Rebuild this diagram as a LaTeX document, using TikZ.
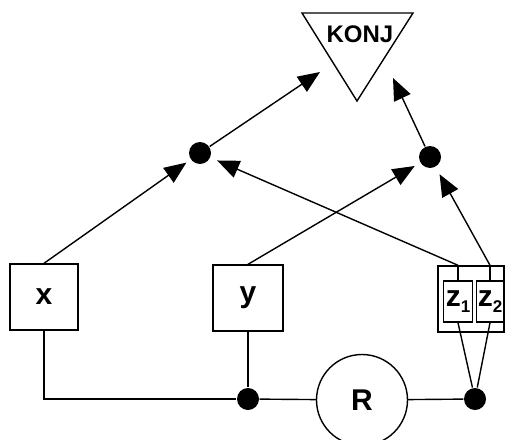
\documentclass[tikz,border=0pt]{standalone}
\usepackage{fontspec}
\setmainfont{Liberation Sans}
\usetikzlibrary{arrows.meta}
\usetikzlibrary{positioning}

\begin{document}
\begin{tikzpicture}[x=1pt,y=-1pt,line width=1.4pt,
		>={Triangle[length=22pt,width=18pt]}]
		\tikzstyle{box}=[draw,rectangle,inner sep=0pt]
		\tikzstyle{dot}=[circle,fill,inner sep=0pt,minimum size=22pt]
		\tikzstyle{letter}=[font=\fontsize{30}{30}\selectfont\bfseries]
		\useasboundingbox (0,0) rectangle (505,439);
		
		\node[box,letter,minimum width=68pt,minimum height=66pt] (X)  at (44,297)    {x};
		\node[box,letter,minimum width=70pt,minimum height=66pt] (Y)  at (248,298)   {y};
		\node[box,minimum width=66pt,minimum height=66pt]        (Z)  at (471,299)   {};
		\node[box,letter,minimum width=29pt,minimum height=41pt] (Z1) at (458,301.5)
		{z\raisebox{-6pt}{\fontsize{17}{17}\selectfont 1}};
		\node[box,letter,minimum width=27pt,minimum height=41pt] (Z2) at (490,301.5)
		{z\raisebox{-6pt}{\fontsize{17}{17}\selectfont 2}};
		\node[draw,circle,letter,minimum size=91pt] (R) at (362,400) {R};
		
		\node[dot] (Dot1)  at (200,153) {};
		\node[dot] (Dot2)  at (430,157) {};
		\node[dot] (Join1) at (248,399) {};
		\node[dot] (Join2) at (475,399) {};
		
		% KONJ triangle
		\draw (302,13) -- (413,13) -- (357,101) -- cycle;
		\node[font=\fontsize{24}{24}\selectfont\bfseries] (Konj) at (360,34) {KONJ};
		\coordinate (KonjL) at (320,72);
		\coordinate (KonjR) at (393,78);
		
		\coordinate (Z1top) at (Z1.north |- Z.north);
		\coordinate (Z2top) at (Z2.north |- Z.north);
		\draw (Z1.north) -- (Z1top);
		\draw (Z2.north) -- (Z2top);
		
		\draw[->,shorten >=5pt] (X.north) -- (Dot1);
		\draw[->,shorten >=6pt] (Y.north) -- (Dot2);
		\draw[->,shorten >=7pt] (Z1top) -- (Dot1);
		\draw[->,shorten >=8pt] (Z2top) -- (Dot2);
		\draw[->] (Dot1) -- (KonjL);
		\draw[->] (Dot2) -- (KonjR);
		
		\draw (X.south) |- (Join1);
		\draw (Y.south) -- (Join1);
		\draw (Join1) -- (R) -- (Join2);
		\draw (Z1.south) -- (Join2);
		\draw (Z2.south) -- (Join2);
\end{tikzpicture}
\end{document}
